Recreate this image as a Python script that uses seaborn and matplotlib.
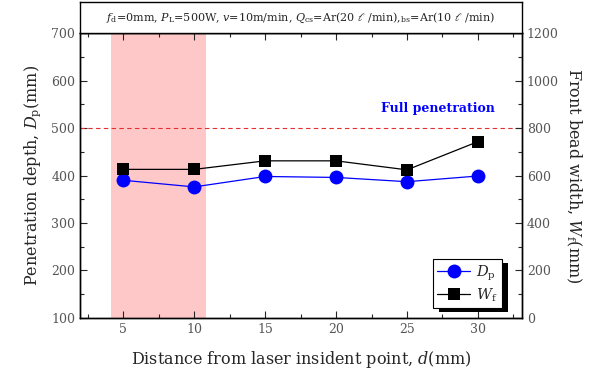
import numpy as np
import pandas as pd
import matplotlib
matplotlib.use("Agg")
import matplotlib.pyplot as plt
import seaborn as sns
from matplotlib.patches import Rectangle
from matplotlib.lines import Line2D
from matplotlib.ticker import MultipleLocator

distance = [5, 10, 15, 20, 25, 30]
depth_dp = [390, 376, 398, 396, 387, 399]
width_wf = [626, 626, 662, 662, 624, 743]
full_pen = 500
span_lo, span_hi = 4.1, 10.8

sns.set_style("ticks")
plt.rcParams['font.family'] = ['DejaVu Serif', 'DejaVu Sans']
plt.rcParams['mathtext.fontset'] = 'dejavuserif'

df = pd.DataFrame({'d': distance, 'Dp': depth_dp, 'Wf': width_wf})

fig = plt.figure(figsize=(5.9, 3.79), dpi=100)
ax = fig.add_axes([0.1356, 0.1617, 0.749, 0.7503])
ax2 = ax.twinx()

ax.axvspan(span_lo, span_hi, color='#ffc8c8', lw=0, zorder=0)
ax.axhline(full_pen, color='#e03030', ls=(0, (4, 3)), lw=0.8, zorder=1)

sns.lineplot(data=df, x='d', y='Dp', ax=ax, color='#0000ff', marker='o',
             markersize=10, markeredgewidth=0, lw=0.9, legend=False)
sns.lineplot(data=df, x='d', y='Wf', ax=ax2, color='black', marker='s',
             markersize=9, markeredgewidth=0, lw=0.9, legend=False)

ax.set_xlim(1.95, 33.1)
ax.set_ylim(100, 700)
ax2.set_ylim(0, 1200)
ax.xaxis.set_major_locator(MultipleLocator(5))
ax.xaxis.set_minor_locator(MultipleLocator(2.5))
ax.yaxis.set_major_locator(MultipleLocator(100))
ax.yaxis.set_minor_locator(MultipleLocator(50))
ax2.yaxis.set_major_locator(MultipleLocator(200))
ax2.yaxis.set_minor_locator(MultipleLocator(100))

tick_col = '#555555'
ax.tick_params(axis='both', which='both', direction='in', top=True, right=False,
               labelcolor=tick_col, labelsize=9)
ax.tick_params(which='major', length=5, width=0.8)
ax.tick_params(which='minor', length=3, width=0.8)
ax2.tick_params(axis='y', which='both', direction='in', labelcolor=tick_col, labelsize=9)
ax2.tick_params(which='major', length=5, width=0.8)
ax2.tick_params(which='minor', length=3, width=0.8)
for a in (ax, ax2):
    for s in a.spines.values():
        s.set_linewidth(1.0)
        s.set_color('black')
        s.set_visible(True)

ax.set_xlabel('Distance from laser insident point, $d$(mm)', fontsize=11.5, labelpad=10)
ax.set_ylabel('Penetration depth, $D_{\\mathrm{p}}$(mm)', fontsize=11.5, labelpad=6)
ax2.set_ylabel('Front bead width, $W_{\\mathrm{f}}$(mm)', fontsize=11.5, rotation=270,
               labelpad=18)

ax.text(27.2, 542, 'Full penetration', color='#0000ff', fontweight='bold',
        fontsize=9, ha='center', va='center')

# Legend
h1 = Line2D([], [], color='#0000ff', marker='o', markersize=10, markeredgewidth=0, lw=0.9)
h2 = Line2D([], [], color='black', marker='s', markersize=9, markeredgewidth=0, lw=0.9)
leg = ax2.legend([h1, h2], ['$D_{\\mathrm{p}}$', '$W_{\\mathrm{f}}$'], loc='lower right',
                 bbox_to_anchor=(0.955, 0.034), borderaxespad=0, frameon=True,
                 fancybox=False, edgecolor='black', fontsize=10.5, handlelength=2.3,
                 borderpad=0.3, labelspacing=0.25, handletextpad=0.4)
leg.get_frame().set_linewidth(0.8)
leg.get_frame().set_alpha(1)
leg.set_zorder(6)

# Title box
tax = fig.add_axes([0.1356, 0.9120, 0.749, 0.083])
tax.set_xticks([]); tax.set_yticks([])
tax.set_facecolor('white')
for s in tax.spines.values():
    s.set_linewidth(1.0); s.set_color('black')
tax.text(0.5, 0.5,
         '$f_{\\mathrm{d}}$=0mm, $P_{\\mathrm{L}}$=500W, $v$=10m/min, '
         '$Q_{\\mathrm{cs}}$=Ar(20 $\\ell$ /min),$_{\\mathrm{bs}}$=Ar(10 $\\ell$ /min)',
         ha='center', va='center', fontsize=8, transform=tax.transAxes)

# legend shadow
fig.canvas.draw()
bb = leg.get_window_extent()
inv = fig.transFigure.inverted()
(x0, y0) = inv.transform((bb.x0 + 6, bb.y0 - 4))
(x1, y1) = inv.transform((bb.x1 + 6, bb.y1 - 4))
ax2.add_patch(Rectangle((x0, y0), x1 - x0, y1 - y0, transform=fig.transFigure,
                        facecolor='black', edgecolor='none', zorder=5.5, clip_on=False))

fig.savefig('out.png', dpi=100)
